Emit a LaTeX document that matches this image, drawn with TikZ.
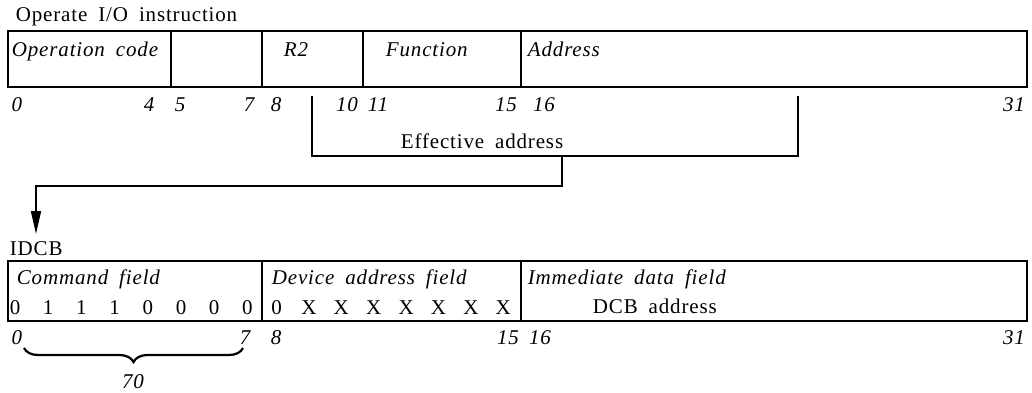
\documentclass[tikz,border=0pt]{standalone}
\usepackage{fontspec}
\setmainfont{Liberation Serif}[WordSpace=1.8,LetterSpace=4]
\usetikzlibrary{arrows.meta,decorations.pathreplacing}
\begin{document}
\begin{tikzpicture}[x=1pt,y=-1pt,line width=1.8pt,
  txt/.style={font=\fontsize{21}{24}\selectfont, inner sep=0pt, anchor=base west},
  itx/.style={font=\fontsize{21}{24}\selectfont\itshape, inner sep=0pt, anchor=base west},
  num/.style={font=\fontsize{21}{24}\selectfont\itshape, inner sep=0pt, anchor=base},
  bit/.style={font=\fontsize{21}{24}\selectfont, inner sep=0pt, anchor=base},
  fld/.style={draw, line width=1.8pt},
  conn/.style={line width=1.8pt},
  arr/.style={conn, -{Triangle[length=23pt,width=10pt]}}]
\useasboundingbox (0,0) rectangle (1032,392);

% ---------- Operate I/O instruction ----------
\node[txt] (title) at (15,21) {Operate I/O instruction};
\draw[fld] (8,31) rectangle (1027,87);
\draw[fld] (171,31) -- (171,87);
\draw[fld] (262,31) -- (262,87);
\draw[fld] (363,31) -- (363,87);
\draw[fld] (521,31) -- (521,87);
\node[itx] (opc) at (11,56) {Operation code};
\node[itx] (r2) at (283,56) {R2};
\node[itx] (fn) at (385,56) {Function};
\node[itx] (addr) at (527,56) {Address};

\foreach \t/\x in {0/17,4/149,5/180,7/249,8/276,10/347,11/378,15/506,16/544,31/1014}
  \node[num] (t\t) at (\x,111) {\t};

% ---------- Effective address bracket ----------
\coordinate (ea1) at (312,96);
\coordinate (ea2) at (312,156);
\coordinate (ea3) at (798,156);
\coordinate (ea4) at (798,96);
\draw[conn] (ea1) -- (ea2) -- (ea3) -- (ea4);
\node[txt] (ea) at (400,148) {Effective address};

\coordinate (d1) at (562,156);
\coordinate (d2) at (562,186);
\coordinate (d3) at (36,186);
\coordinate (d4) at (36,234);
\draw[arr] (d1) -- (d2) -- (d3) -- (d4);

% ---------- IDCB ----------
\node[txt] (idcb) at (9,255) {IDCB};
\draw[fld] (8,261) rectangle (1027,321);
\draw[fld] (262,261) -- (262,321);
\draw[fld] (521,261) -- (521,321);
\node[itx] (cmd) at (16,284) {Command field};
\node[itx] (dev) at (271,284) {Device address field};
\node[itx] (imm) at (527,284) {Immediate data field};
\node[txt] (dcb) at (592,313) {DCB address};

\foreach \b [count=\i from 0] in {0,1,1,1,0,0,0,0}
  \node[bit] (c\i) at (15+33.2*\i,314) {\b};
\foreach \b [count=\i from 0] in {0,X,X,X,X,X,X,X}
  \node[bit] (x\i) at (276.5+32.4*\i,314) {\b};

\foreach \t/\x in {0/17,7/245,8/276,15/508,16/540,31/1014}
  \node[num] (b\t) at (\x,344) {\t};

\draw[line width=2.2pt, decorate, decoration={brace, mirror, amplitude=14pt}] (24,348) -- (243,348);
\node[num] (seventy) at (133,388) {70};
\end{tikzpicture}
\end{document}
